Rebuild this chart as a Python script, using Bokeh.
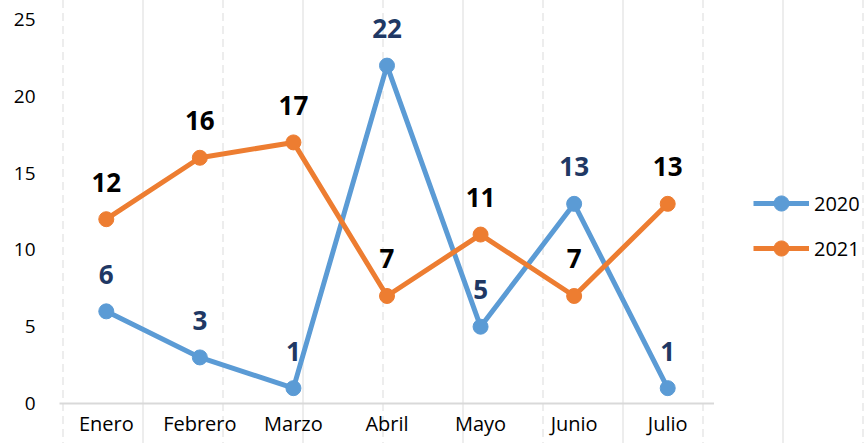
from bokeh.plotting import figure
from bokeh.layouts import row
from bokeh.models import ColumnDataSource, Range1d, FactorRange, Legend, LegendItem
from bokeh.core.properties import value
from bokeh.embed import file_html
from bokeh.resources import INLINE

months = ["Enero", "Febrero", "Marzo", "Abril", "Mayo", "Junio", "Julio"]
values_2020 = [6, 3, 1, 22, 5, 13, 1]
values_2021 = [12, 16, 17, 7, 11, 7, 13]
y_ticks = [0, 5, 10, 15, 20, 25]
series_names = ["2020", "2021"]

BLUE = "#5B9BD5"
ORANGE = "#ED7D31"
FONT = "Open Sans"

src = ColumnDataSource(dict(
    m=months, a=values_2020, b=values_2021,
    la=[str(v) for v in values_2020], lb=[str(v) for v in values_2021],
))

def grid_bg(offset):
    svg = ("<svg xmlns='http://www.w3.org/2000/svg' width='160' height='13'>"
           "<rect x='62' y='0' width='2' height='8' fill='%23ededed'/>"
           "<rect x='142' y='0' width='2' height='13' fill='%23ededed'/></svg>")
    return {"background-image": "url(\"data:image/svg+xml;utf8," + svg + "\")",
            "background-repeat": "repeat",
            "background-position": f"{-offset}px 0px"}

p = figure(width=714, height=443, output_backend="svg", toolbar_location=None,
           x_range=FactorRange(*months, range_padding=0),
           y_range=Range1d(0, 26.24),
           min_border_left=59, min_border_right=0, min_border_top=0, min_border_bottom=40)
p.styles = grid_bg(0)
p.border_fill_color = None
p.background_fill_color = None
p.outline_line_color = None
p.grid.visible = False

p.line("m", "a", source=src, line_color=BLUE, line_width=5)
p.scatter("m", "a", source=src, size=15, fill_color=BLUE, line_color=BLUE)
p.line("m", "b", source=src, line_color=ORANGE, line_width=5)
p.scatter("m", "b", source=src, size=15, fill_color=ORANGE, line_color=ORANGE)

for col, ycol, color in (("la", "a", "#203864"), ("lb", "b", "#000000")):
    p.text("m", ycol, text=col, source=src, y_offset=-37,
           text_align="center", text_baseline="alphabetic", text_font=value(FONT),
           text_font_size="26px", text_font_style="bold", text_color=color)

p.yaxis.ticker = y_ticks
p.yaxis.axis_line_color = None
p.yaxis.major_tick_line_color = None
p.yaxis.minor_tick_line_color = None
p.yaxis.major_tick_out = 0
p.yaxis.major_tick_in = 0
p.yaxis.major_label_standoff = 24
p.yaxis.major_label_text_font = FONT
p.yaxis.major_label_text_font_size = "19px"
p.yaxis.major_label_text_color = "#000000"

p.xaxis.axis_line_color = "#d9d9d9"
p.xaxis.axis_line_width = 2
p.xaxis.major_tick_line_color = None
p.xaxis.minor_tick_line_color = None
p.xaxis.major_tick_out = 0
p.xaxis.major_tick_in = 0
p.xaxis.major_label_standoff = 6
p.xaxis.major_label_text_font = FONT
p.xaxis.major_label_text_font_size = "20px"
p.xaxis.major_label_text_color = "#000000"

# legend panel
lg = figure(width=150, height=443, output_backend="svg", toolbar_location=None,
            x_range=Range1d(0, 1), y_range=Range1d(0, 1),
            min_border=0)
lg.styles = grid_bg(714)
lg.border_fill_color = None
lg.background_fill_color = None
lg.outline_line_color = None
lg.axis.visible = False
lg.grid.visible = False
items = []
nan = [float("nan")]
for name, color in zip(series_names, (BLUE, ORANGE)):
    r1 = lg.line(x=nan, y=nan, line_color=color, line_width=5)
    r2 = lg.scatter(x=nan, y=nan, size=15, fill_color=color, line_color=color)
    items.append(LegendItem(label=name, renderers=[r1, r2]))
legend = Legend(items=items, location=(39, 136), orientation="vertical",
                padding=0, margin=0, spacing=7, glyph_width=56, glyph_height=38,
                label_height=20, label_standoff=5,
                label_text_font=FONT, label_text_font_size="20px",
                label_text_color="#000000",
                border_line_color=None, background_fill_alpha=0)
lg.add_layout(legend, "center")

layout = row(p, lg, spacing=0)
open("out.html", "w").write(file_html(layout, INLINE))
